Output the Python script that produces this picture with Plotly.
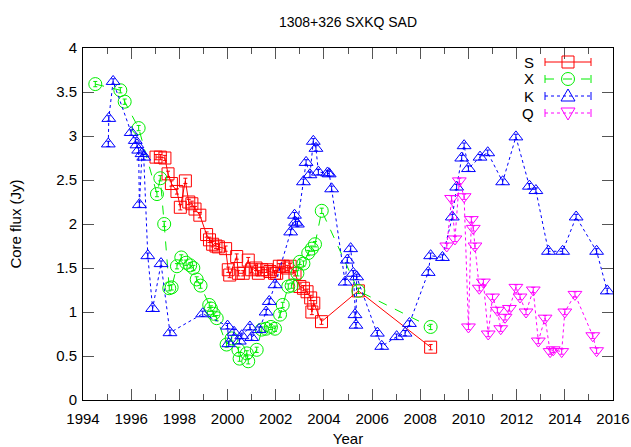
import plotly.graph_objects as go

# ---- data: core flux density (Jy) per band vs. epoch (year) ----
s_year = [1997.03, 1997.21, 1997.40, 1997.53, 1997.67, 1997.90, 1998.04, 1998.25, 1998.39,
          1998.52, 1998.65, 1998.85, 1999.13, 1999.25, 1999.38, 1999.52, 1999.62, 1999.92,
          2000.03, 2000.09, 2000.38, 2000.45, 2000.65, 2000.86, 2001.00, 2001.18, 2001.28,
          2001.42, 2001.63, 2001.76, 2001.95, 2002.04, 2002.15, 2002.31, 2002.48, 2002.60,
          2002.80, 2003.00, 2003.15, 2003.30, 2003.45, 2003.50, 2003.58, 2003.90, 2005.43,
          2008.43]
s_flux = [2.76, 2.76, 2.75, 2.57, 2.46, 2.37, 2.19, 2.49, 2.25,
          2.23, 2.17, 2.10, 1.88, 1.82, 1.77, 1.75, 1.74, 1.72,
          1.48, 1.42, 1.63, 1.44, 1.44, 1.59, 1.48, 1.50, 1.44,
          1.48, 1.48, 1.46, 1.44, 1.44, 1.52, 1.52, 1.50, 1.52,
          1.44, 1.29, 1.27, 1.23, 1.16, 1.00, 1.10, 0.89, 1.24,
          0.60]

x_year = [1994.51, 1995.55, 1995.73, 1996.31, 1997.07, 1997.21, 1997.37, 1997.58, 1997.68,
          1997.90, 1998.08, 1998.28, 1998.45, 1998.58, 1998.72, 1998.88, 1999.24, 1999.31,
          1999.42, 1999.55, 1999.96, 2000.17, 2000.45, 2000.50, 2000.80, 2000.86, 2001.21,
          2001.42, 2001.60, 2001.80, 2001.97, 2002.18, 2002.29, 2002.52, 2002.66, 2002.90,
          2003.00, 2003.15, 2003.35, 2003.50, 2003.63, 2003.91, 2005.43, 2008.43]
x_flux = [3.59, 3.52, 3.39, 3.09, 2.34, 2.52, 2.00, 1.27, 1.28,
          1.52, 1.62, 1.56, 1.53, 1.50, 1.37, 1.30, 1.08, 1.04,
          0.98, 0.93, 0.63, 0.70, 0.57, 0.47, 0.53, 0.44, 0.57,
          0.80, 0.81, 0.83, 0.81, 0.97, 1.08, 1.29, 1.30, 1.44,
          1.57, 1.55, 1.67, 1.72, 1.77, 2.15, 1.24, 0.83]

k_year = [1995.05, 1995.07, 1995.25, 1996.00, 1996.17, 1996.24, 1996.31, 1996.34, 1996.45,
          1996.52, 1996.69, 1996.89, 1997.24, 1997.61, 1998.97, 2000.00, 2000.05, 2000.27,
          2000.49, 2000.59, 2000.93, 2001.00, 2001.31, 2001.60, 2001.73, 2001.97, 2002.62,
          2002.78, 2002.82, 2002.90, 2003.15, 2003.26, 2003.42, 2003.56, 2003.67, 2003.77,
          2004.15, 2004.22, 2004.32, 2004.88, 2004.97, 2005.11, 2005.22, 2005.29, 2005.33,
          2005.36, 2006.22, 2006.40, 2007.02, 2007.37, 2007.55, 2008.33, 2008.43, 2008.92,
          2009.33, 2009.51, 2009.72, 2009.82, 2010.00, 2010.48, 2010.80, 2011.42, 2011.97,
          2012.53, 2012.80, 2013.32, 2013.91, 2014.47, 2015.32, 2015.76]
k_flux = [2.91, 3.20, 3.62, 3.04, 2.95, 2.90, 2.84, 2.22, 2.80,
          2.76, 1.64, 1.04, 1.55, 0.765, 0.98, 0.84, 0.64, 0.77,
          0.67, 0.73, 0.83, 0.71, 0.80, 1.00, 1.12, 1.31, 1.91,
          2.10, 2.02, 2.00, 2.48, 2.70, 2.56, 2.94, 2.86, 2.59,
          2.58, 2.57, 2.40, 1.34, 1.59, 1.72, 1.44, 0.97, 0.85,
          1.40, 0.76, 0.61, 0.72, 0.76, 0.87, 1.45, 1.64, 1.62,
          2.08, 2.42, 2.75, 2.89, 2.63, 2.76, 2.81, 2.48, 2.99,
          2.43, 2.38, 1.69, 1.69, 2.08, 1.69, 1.24]

q_year = [2009.10, 2009.30, 2009.44, 2009.62, 2009.82, 2010.00, 2010.12, 2010.20, 2010.27,
          2010.45, 2010.62, 2010.82, 2011.00, 2011.20, 2011.34, 2011.52, 2011.70, 2011.97,
          2012.14, 2012.39, 2012.69, 2012.90, 2013.18, 2013.39, 2013.52, 2013.87, 2014.00,
          2014.42, 2015.16, 2015.32]
q_flux = [1.75, 2.29, 1.83, 2.49, 2.31, 0.83, 2.05, 1.95, 1.75,
          1.27, 1.34, 0.75, 1.17, 1.02, 0.81, 0.94, 1.04, 1.28,
          1.17, 1.00, 1.25, 0.67, 0.93, 0.55, 0.57, 0.55, 1.00,
          1.20, 0.73, 0.56]

x_ticks = list(range(1994, 2017, 2))
y_ticks = [0, 0.5, 1, 1.5, 2, 2.5, 3, 3.5, 4]

bands = [
    ("S", s_year, s_flux, "#ff0000", "solid", "square-open", 12),
    ("X", x_year, x_flux, "#00ee00", "dash", "circle-open", 13),
    ("K", k_year, k_flux, "#0000ff", "dot", "triangle-up-open", 12),
    ("Q", q_year, q_flux, "#ff00ff", "dot", "triangle-down-open", 12),
]

FONT = "Liberation Sans, Arial, sans-serif"
fig = go.Figure()
for name, xs, ys, color, dash, symbol, size in bands:
    fig.add_trace(go.Scatter(
        x=xs, y=ys, name=name, mode="lines+markers",
        line=dict(color=color, width=1, dash=dash),
        marker=dict(symbol=symbol, size=size, color=color, line=dict(width=1, color=color)),
        error_y=dict(type="constant", value=0.03, thickness=1, width=2, color=color),
        showlegend=False,
    ))

# plot area in pixels
L, R, T, B = 83, 613, 48, 400
W, H = 631, 447


def px(xp):
    return (xp - L) / (R - L)


def py(yp):
    return (B - yp) / (B - T)


# gnuplot-style key: label on the left, line sample with symbol on the right
shapes = []
annotations = []
key_rows = [62, 79, 96, 113]
for (name, _, _, color, dash, symbol, _), yr in zip(bands, key_rows):
    annotations.append(dict(x=px(536), y=py(yr), xref="paper", yref="paper", text=name,
                            showarrow=False, xanchor="right", yanchor="middle",
                            font=dict(family=FONT, size=15, color="black")))
    shapes.append(dict(type="line", xref="paper", yref="paper", x0=px(545), x1=px(591),
                       y0=py(yr), y1=py(yr), line=dict(color=color, width=1, dash=dash)))
    for xe in (545, 591):
        shapes.append(dict(type="line", xref="paper", yref="paper", x0=px(xe), x1=px(xe),
                           y0=py(yr - 4), y1=py(yr + 4), line=dict(color=color, width=1)))
    cx = 568
    if symbol.startswith("square"):
        shapes.append(dict(type="rect", xref="paper", yref="paper", x0=px(cx - 6), x1=px(cx + 6),
                           y0=py(yr - 6), y1=py(yr + 6), line=dict(color=color, width=1)))
    elif symbol.startswith("circle"):
        shapes.append(dict(type="circle", xref="paper", yref="paper", x0=px(cx - 6.5), x1=px(cx + 6.5),
                           y0=py(yr - 6.5), y1=py(yr + 6.5), line=dict(color=color, width=1)))
    elif symbol.startswith("triangle-up"):
        path = "M {} {} L {} {} L {} {} Z".format(px(cx - 7), py(yr + 5), px(cx + 7), py(yr + 5),
                                                   px(cx), py(yr - 7))
        shapes.append(dict(type="path", xref="paper", yref="paper", path=path,
                           line=dict(color=color, width=1)))
    else:
        path = "M {} {} L {} {} L {} {} Z".format(px(cx - 7), py(yr - 5), px(cx + 7), py(yr - 5),
                                                   px(cx), py(yr + 7))
        shapes.append(dict(type="path", xref="paper", yref="paper", path=path,
                           line=dict(color=color, width=1)))

axis_common = dict(
    showline=True, linecolor="black", linewidth=1, mirror="allticks",
    ticks="inside", ticklen=11, tickcolor="#555555", tickwidth=1,
    showgrid=False, zeroline=False, automargin=False,
    tickfont=dict(family=FONT, size=15, color="black"),
)

fig.update_layout(
    width=W, height=H,
    margin=dict(l=L, r=W - R, t=T, b=H - B),
    paper_bgcolor="white", plot_bgcolor="white",
    font=dict(family=FONT, size=15, color="black"),
    title=dict(text="1308+326 SXKQ SAD", x=px(348), xref="paper", xanchor="center",
               y=1 - 22 / H, yref="container", yanchor="middle",
               font=dict(family=FONT, size=14, color="black")),
    xaxis=dict(range=[1994, 2016], tickmode="array", tickvals=x_ticks,
               ticktext=[str(v) for v in x_ticks], ticklabelstandoff=5,
               minor=dict(dtick=1, tick0=1994, ticks="inside", ticklen=6, tickcolor="#555555"),
               title=dict(text="Year", standoff=8, font=dict(family=FONT, size=15)),
               **axis_common),
    yaxis=dict(range=[0, 4], tickmode="array", tickvals=y_ticks,
               ticktext=[("%g" % v) for v in y_ticks], ticklabelstandoff=2,
               title=dict(text="Core flux (Jy)", standoff=30, font=dict(family=FONT, size=15)),
               **axis_common),
    shapes=shapes,
    annotations=annotations,
)

fig.write_html("out.html")
